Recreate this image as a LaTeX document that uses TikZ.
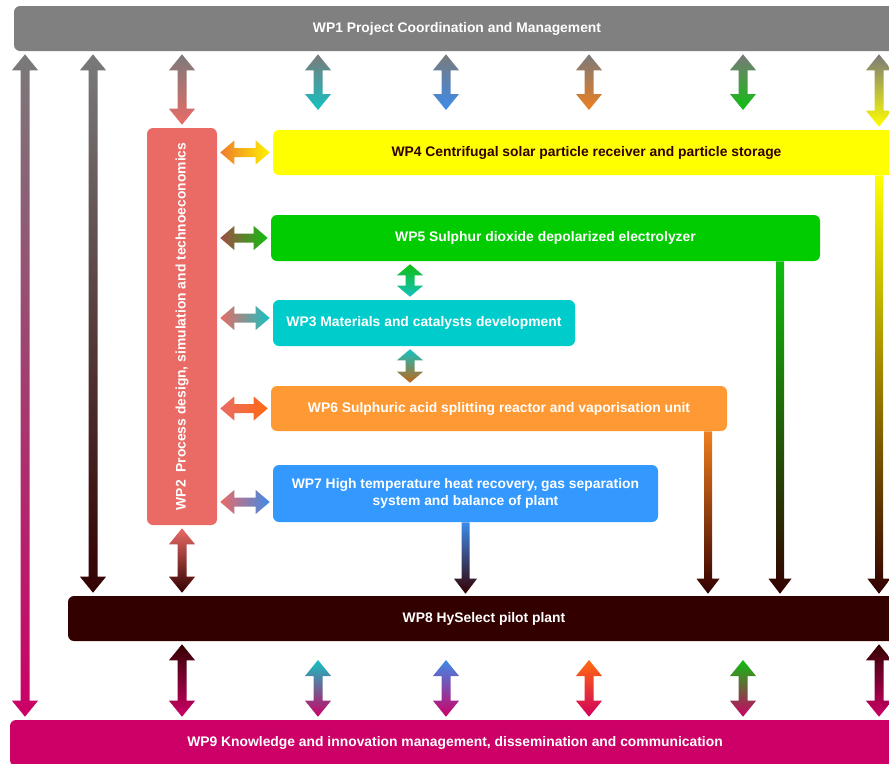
\documentclass[tikz,border=0pt]{standalone}
\usepackage{fontspec}
\setmainfont{Liberation Sans}
\usepackage{graphicx}
\usetikzlibrary{calc}

\definecolor{wpgray}{HTML}{808080}
\definecolor{wpyellow}{HTML}{FFFF00}
\definecolor{wpgreen}{HTML}{00CC00}
\definecolor{wpteal}{HTML}{00CCCC}
\definecolor{wporange}{HTML}{FF9933}
\definecolor{wpblue}{HTML}{3399FF}
\definecolor{wpsalmon}{HTML}{EA6B66}
\definecolor{wpdark}{HTML}{330000}
\definecolor{wpmagenta}{HTML}{CC0066}
\definecolor{arteal}{HTML}{14C2C2}
\definecolor{arblue}{HTML}{3D8BEA}
\definecolor{arorange}{HTML}{EE7F1F}
\definecolor{arred}{HTML}{FF6A10}
\definecolor{argreen}{HTML}{10BE10}
\definecolor{argray}{HTML}{7A7A7A}

% double-headed block arrow, vertical: [head length] top, bottom, top colour, bottom colour
\newcommand{\vboth}[5][16]{%
  \path ($#2+(0,3)$) coordinate (tipA) ($#3+(0,-3)$) coordinate (tipB);
  \shade[top color=#4, bottom color=#5]
    (tipA) -- ++(13,#1) -- ++(-8.5,0) -- ($(tipB)+(4.5,-#1)$) -- ++(8.5,0)
    -- (tipB) -- ++(-13,-#1) -- ++(8.5,0) -- ($(tipA)+(-4.5,#1)$) -- ++(-8.5,0) -- cycle;}
% single block arrow pointing down
\newcommand{\vdown}[4]{%
  \path #1 coordinate (tipA) ($#2+(0,-2)$) coordinate (tipB);
  \shade[top color=#3, bottom color=#4]
    ($(tipA)+(-4,0)$) -- ($(tipA)+(4,0)$) -- ($(tipB)+(4,-15)$) -- ++(7.5,0)
    -- (tipB) -- ++(-11.5,-15) -- ++(7.5,0) -- cycle;}
% double-headed block arrow, horizontal: left, right, left colour, right colour
\newcommand{\hboth}[4]{%
  \path ($#1+(3,0)$) coordinate (tipA) ($#2+(-3,0)$) coordinate (tipB);
  \shade[left color=#3, right color=#4]
    (tipA) -- ++(14,-12) -- ++(0,7.5) -- ($(tipB)+(-14,-4.5)$) -- ++(0,-7.5)
    -- (tipB) -- ++(-14,12) -- ++(0,-7.5) -- ($(tipA)+(14,4.5)$) -- ++(0,7.5) -- cycle;}

\begin{document}
\begin{tikzpicture}[x=0.75pt, y=-0.75pt,
    wpbox/.style={rectangle, rounded corners=4.5pt, inner sep=0pt, align=center,
      text=white, font=\bfseries\fontsize{10.4}{12.5}\selectfont}]
  \useasboundingbox (0,0) rectangle (889,764);

  % work packages
  \node[wpbox, fill=wpgray, minimum width=886*0.75pt, minimum height=45*0.75pt]
    (wp1) at (457,28.5) {WP1 Project Coordination and Management};
  \node[wpbox, fill=wpsalmon, minimum width=70*0.75pt, minimum height=397*0.75pt]
    (wp2) at (182,326.5) {\rotatebox{90}{WP2\ \ Process design, simulation and technoeconomics}};
  \node[wpbox, fill=wpyellow, text=wpdark, minimum width=627*0.75pt, minimum height=45*0.75pt]
    (wp4) at (586.5,152.5) {WP4 Centrifugal solar particle receiver and particle storage};
  \node[wpbox, fill=wpgreen, minimum width=549*0.75pt, minimum height=46*0.75pt]
    (wp5) at (545.5,238) {WP5 Sulphur dioxide depolarized electrolyzer};
  \node[wpbox, fill=wpteal, minimum width=302*0.75pt, minimum height=46*0.75pt]
    (wp3) at (424,323) {WP3 Materials and catalysts development};
  \node[wpbox, fill=wporange, minimum width=456*0.75pt, minimum height=45*0.75pt]
    (wp6) at (499,408.5) {WP6 Sulphuric acid splitting reactor and vaporisation unit};
  \node[wpbox, fill=wpblue, minimum width=385*0.75pt, minimum height=57*0.75pt]
    (wp7) at (465.5,493.5) {WP7 High temperature heat recovery, gas separation\\system and balance of plant};
  \node[wpbox, fill=wpdark, minimum width=832*0.75pt, minimum height=45*0.75pt]
    (wp8) at (484,618.5) {WP8 HySelect pilot plant};
  \node[wpbox, fill=wpmagenta, minimum width=890*0.75pt, minimum height=46*0.75pt]
    (wp9) at (455,743) {WP9 Knowledge and innovation management, dissemination and communication};

  % columns and free ends
  \coordinate (c0) at (25,0);
  \coordinate (c1) at (93,0);
  \coordinate (c3) at (318,0);
  \coordinate (c4) at (446,0);
  \coordinate (c5) at (589,0);
  \coordinate (c6) at (743,0);
  \coordinate (c7) at (879,0);
  \coordinate (cm) at (410,0);
  \coordinate (c9) at (708,0);
  \coordinate (c10) at (780,0);
  \coordinate (topend) at (0,113);
  \coordinate (botstart) at (0,657);
  \coordinate (r3) at (0,318);
  \coordinate (r7) at (0,502);

  % WP1 to the others
  \vboth{(wp1.south -| c0)}{(wp9.north -| c0)}{argray}{wpmagenta}
  \vboth{(wp1.south -| c1)}{(wp8.north -| c1)}{argray}{wpdark}
  \vboth{(wp1.south -| wp2)}{(wp2.north)}{argray}{wpsalmon}
  \vboth{(wp1.south -| c3)}{(topend -| c3)}{argray}{arteal}
  \vboth{(wp1.south -| c4)}{(topend -| c4)}{argray}{arblue}
  \vboth{(wp1.south -| c5)}{(topend -| c5)}{argray}{arorange}
  \vboth{(wp1.south -| c6)}{(topend -| c6)}{argray}{argreen}
  \vboth{(wp1.south -| c7)}{(wp4.north -| c7)}{argray}{wpyellow}

  % WP2 to the technical packages
  \hboth{(wp2.east |- wp4)}{(wp4.west)}{arorange!80!wpsalmon}{wpyellow!90!orange}
  \hboth{(wp2.east |- wp5)}{(wp5.west)}{wpsalmon!70!black}{argreen}
  \hboth{(wp2.east |- r3)}{(wp3.west |- r3)}{wpsalmon}{arteal}
  \hboth{(wp2.east |- wp6)}{(wp6.west)}{wpsalmon}{arred}
  \hboth{(wp2.east |- r7)}{(wp7.west |- r7)}{wpsalmon}{arblue}
  \vboth[11]{(wp5.south -| cm)}{(wp3.north -| cm)}{argreen}{arteal}
  \vboth[11]{(wp3.south -| cm)}{(wp6.north -| cm)}{arteal}{arorange!80!black}

  % into the pilot plant
  \vboth{(wp2.south)}{(wp8.north -| wp2)}{wpsalmon}{wpdark}
  \vdown{(wp7.south)}{(wp8.north -| wp7)}{arblue}{wpdark}
  \vdown{(wp6.south -| c9)}{(wp8.north -| c9)}{arorange}{wpdark}
  \vdown{(wp5.south -| c10)}{(wp8.north -| c10)}{argreen}{wpdark}
  \vdown{(wp4.south -| c7)}{(wp8.north -| c7)}{wpyellow}{wpdark}

  % WP9 links
  \vboth{(wp8.south -| wp2)}{(wp9.north -| wp2)}{wpdark}{wpmagenta}
  \vboth{(botstart -| c3)}{(wp9.north -| c3)}{arteal}{wpmagenta}
  \vboth{(botstart -| c4)}{(wp9.north -| c4)}{arblue}{wpmagenta}
  \vboth{(botstart -| c5)}{(wp9.north -| c5)}{arred}{wpmagenta!90!red}
  \vboth{(botstart -| c6)}{(wp9.north -| c6)}{argreen}{wpmagenta}
  \vboth{(wp8.south -| c7)}{(wp9.north -| c7)}{wpdark}{wpmagenta}
\end{tikzpicture}
\end{document}
